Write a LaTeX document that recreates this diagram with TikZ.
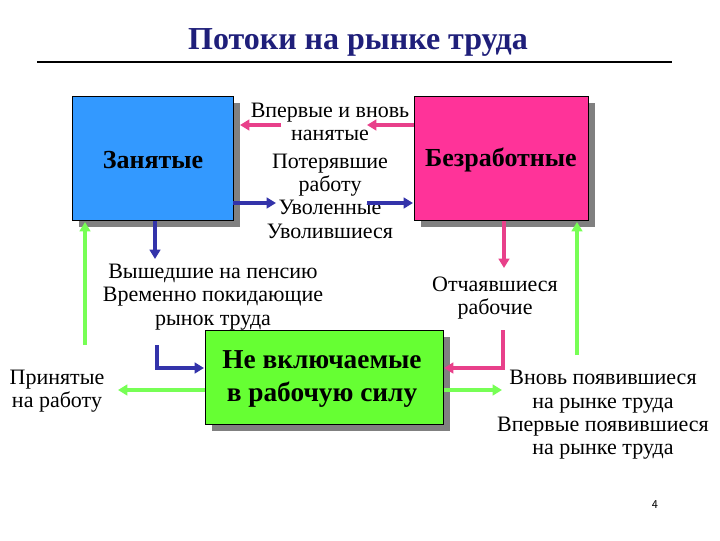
\documentclass[tikz,border=0pt]{standalone}
\usepackage{fontspec}
\setmainfont{Liberation Serif}
\usetikzlibrary{arrows.meta}
\definecolor{bbox}{HTML}{3399FF}
\definecolor{pbox}{HTML}{FF3399}
\definecolor{gbox}{HTML}{66FF33}
\definecolor{darr}{HTML}{3333AA}
\definecolor{parr}{HTML}{E8408A}
\definecolor{garr}{HTML}{77FF55}
\definecolor{ttl}{HTML}{1F1F7A}
\begin{document}
\begin{tikzpicture}[x=0.75pt,y=-0.75pt,
  txt/.style={font=\fontsize{16.5}{17.5}\selectfont,align=center,inner sep=0pt},
  arr/.style={line width=2.8pt,-{Triangle[length=7pt,width=8pt]}}]
\useasboundingbox (0,0) rectangle (720,540);
\node[font=\fontsize{24}{28}\selectfont\bfseries,text=ttl] (title) at (358,42) {Потоки на рынке труда};
\draw[line width=1.8pt] (37,62) -- (672,62);
% shadows
\fill[gray] (79,103) rectangle (240,227);
\fill[gray] (421,103) rectangle (595,227);
\fill[gray] (212,337) rectangle (450,431);
\draw[fill=bbox] (72,96) rectangle (233,220);
\draw[fill=pbox] (414,96) rectangle (588,220);
\draw[fill=gbox] (205,330) rectangle (443,424);
\node[font=\fontsize{19.5}{22}\selectfont\bfseries] (zan) at (153,160) {Занятые};
\node[font=\fontsize{19.5}{22}\selectfont\bfseries] (bez) at (501,160) {Безработные};
\node[font=\fontsize{20.5}{24.5}\selectfont\bfseries,align=center] (ne) at (322,379) {Не включаемые\\в рабочую силу};
\node[txt] (t1) at (330,122) {Впервые и вновь\\нанятые};
\node[txt] (t2) at (330,196) {Потерявшие\\работу\\Уволенные\\Уволившиеся};
\node[txt] (t3) at (213,297) {Вышедшие на пенсию\\Временно покидающие\\рынок труда};
\node[txt] (t4) at (495,298) {Отчаявшиеся\\рабочие};
\node[txt] (t5) at (57,391) {Принятые\\на работу};
\node[txt] (t6) at (603,415) {Вновь появившиеся\\на рынке труда\\Впервые появившиеся\\на рынке труда};
\node[font=\fontsize{9}{11}\selectfont\sffamily] (pg) at (655,505) {4};
% arrows
\draw[arr,parr] (414,125) -- (367,125);
\draw[arr,parr] (281,125) -- (240,125);
\draw[arr,darr] (233,203) -- (276,203);
\draw[arr,darr] (367,203) -- (413,203);
\draw[arr,darr] (155,221) -- (155,259);
\draw[arr,parr] (504,221) -- (504,268);
\draw[arr,garr] (85,345) -- (85,222);
\draw[arr,garr] (577,355) -- (577,222);
\draw[arr,darr] (157,345) |- (204,368);
\draw[arr,parr] (503,330) |- (444,368);
\draw[arr,garr] (205,390) -- (118,390);
\draw[arr,garr] (444,390) -- (502,390);
\end{tikzpicture}
\end{document}
